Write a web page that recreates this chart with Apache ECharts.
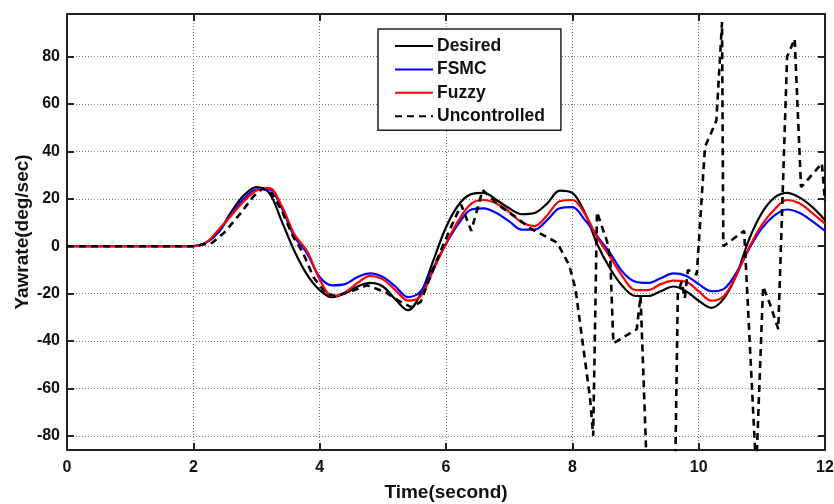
<!DOCTYPE html>
<html lang="en">
  <head>
    <meta charset="UTF-8" />
    <title>Yawrate comparison</title>
    <script src="https://cdn.jsdelivr.net/npm/echarts@6.0.0/dist/echarts.min.js"></script>
    <style>
      html, body { margin: 0; padding: 0; background: #fff; }
    </style>
  </head>
  <body>
    <div id="chart" style="width: 834px; height: 504px"></div>
    <script>
      // time grid shared by the three smooth curves
      const timeC = [0, 2, 2.2, 2.4, 2.6, 2.8, 3, 3.2, 3.4, 3.6, 3.8, 4, 4.2, 4.4, 4.6, 4.8, 5, 5.2, 5.4, 5.6, 5.8,
        6, 6.2, 6.4, 6.6, 6.8, 7, 7.2, 7.4, 7.6, 7.8, 8, 8.2, 8.4, 8.6, 8.8, 9, 9.2, 9.4, 9.6, 9.8,
        10, 10.2, 10.4, 10.6, 10.8, 11, 11.2, 11.4, 11.6, 11.8, 12];
      const desired = [0, 0, 1.5, 6, 14.5, 21.5, 25, 22.5, 10.5, -2, -12, -18.5, -21.5, -20, -17, -15.5, -17, -22.5, -27, -20, -6,
        8, 17.5, 22, 22.5, 19.5, 16, 13.5, 14, 18, 23.5, 22.5, 14, 0.5, -9.5, -17, -21, -21, -19, -17, -19,
        -23, -26, -22, -12, 3, 14, 20.5, 22.5, 20.5, 16.5, 11];
      const fsmc = [0, 0, 1.5, 6, 13.5, 20, 24, 24, 16, 4, -3, -13, -16.5, -16, -13, -11.5, -13, -17, -21.5, -19, -9,
        1, 9.5, 15.5, 16, 14, 10.5, 7, 7, 11, 16, 16.5, 11, 4, -3, -11, -15, -15.5, -13.5, -11.5, -12.5,
        -16, -19, -18, -11, -1, 7.5, 13, 15.5, 14, 10.5, 6.5];
      const fuzzy = [0, 0, 1.5, 7, 13, 19, 23.5, 24.5, 17, 5, -2, -14, -21, -19.5, -15.5, -12.5, -14, -18.5, -23, -21, -10,
        1, 11, 18, 19.5, 18, 14.5, 10, 8.5, 13, 19, 19.5, 13.5, 3.5, -4.6, -13, -18.5, -18.5, -16, -14.5, -15,
        -19, -23, -21, -12, -0.5, 9, 15.5, 19.5, 18, 14, 9.5];

      // uncontrolled response, irregular sampling
      const timeU = [0, 2, 2.3, 2.5, 2.75, 2.95, 3.1, 3.25, 3.4, 3.58, 3.74, 3.9, 4.1, 4.25, 4.5, 4.75, 5.05, 5.25, 5.45, 5.6,
        5.75, 5.9, 6.06, 6.24, 6.4, 6.58, 6.85, 7.12, 7.33, 7.6, 7.76, 7.85, 7.95, 8.05, 8.17, 8.28, 8.33, 8.39, 8.55, 8.6,
        8.65, 9.02, 9.08, 9.2, 9.62, 9.67, 9.73, 9.78, 9.83, 9.97, 10.1, 10.2, 10.28, 10.37, 10.39, 10.72, 10.91, 11.02,
        11.13, 11.26, 11.4, 11.52, 11.62, 11.66, 11.95, 12];
      const uncontrolled = [0, 0, 1.5, 6, 14, 21, 24.5, 22, 15, 4, -3, -13, -20, -21, -19, -16.5, -19.5, -23, -25.7, -23.5,
        -13, -3, 7, 17.5, 6.5, 23.7, 17, 12, 7.6, 3.8, 1.5, -3, -8, -18, -42, -64, -80, 14.4, 2, -5,
        -41, -35, -21, -110, -110, -20, -15, -22, -10, -12, 42, 48, 53, 94.6, 0, 6.5, -95, -17,
        -24.5, -35, 80, 87.5, 25, 26, 35, 19];

      const yTicks = [-80, -60, -40, -20, 0, 20, 40, 60, 80];

      const zip = (ts, vs) => ts.map((t, i) => [t, vs[i]]);

      const font = "'Liberation Sans', Arial, sans-serif";
      const chart = echarts.init(document.getElementById("chart"));

      const hidden = { show: false };
      const axisLineStyle = { color: "#222", width: 2 };
      const option = {
        animation: false,
        grid: { left: 67, right: 9, top: 14, bottom: 54, outerBoundsMode: "none", containLabel: false },
        textStyle: { fontFamily: font },
        legend: {
          orient: "vertical",
          left: 378,
          top: 29,
          padding: [8, 16, 5, 16],
          itemWidth: 38,
          itemHeight: 14,
          itemGap: 5.4,
          backgroundColor: "#fff",
          borderColor: "#222",
          borderWidth: 1.5,
          itemStyle: { color: "transparent", borderWidth: 0, opacity: 0 },
          textStyle: { fontFamily: font, fontWeight: "bold", fontSize: 17.5, color: "#111", padding: [0, 0, 0, -1] },
          data: ["Desired", "FSMC", "Fuzzy", "Uncontrolled"],
        },
        xAxis: [
          {
            type: "value",
            min: 0,
            max: 12,
            interval: 2,
            name: "Time(second)",
            nameLocation: "middle",
            nameGap: 33,
            nameTextStyle: { fontFamily: font, fontWeight: "bold", fontSize: 19, color: "#111" },
            axisLine: { onZero: false, lineStyle: axisLineStyle },
            axisTick: { inside: true, length: 7, lineStyle: axisLineStyle },
            axisLabel: { fontFamily: font, fontWeight: "bold", fontSize: 16, color: "#111", margin: 10 },
            splitLine: { show: true, lineStyle: { color: "#777", type: [1, 2], width: 1 } },
          },
          {
            type: "value",
            position: "top",
            min: 0,
            max: 12,
            interval: 2,
            axisLine: { onZero: false, lineStyle: axisLineStyle },
            axisTick: { inside: true, length: 7, lineStyle: axisLineStyle },
            axisLabel: hidden,
            splitLine: hidden,
          },
        ],
        yAxis: [
          {
            type: "value",
            min: -86,
            max: 98,
            name: "Yawrate(deg/sec)",
            nameLocation: "middle",
            nameGap: 35,
            nameMoveOverlap: false,
            nameTextStyle: { fontFamily: font, fontWeight: "bold", fontSize: 19, color: "#111" },
            axisLine: { show: true, onZero: false, lineStyle: axisLineStyle },
            axisTick: { show: true, inside: true, length: 7, customValues: yTicks, lineStyle: axisLineStyle },
            axisLabel: { customValues: yTicks, fontFamily: font, fontWeight: "bold", fontSize: 16, color: "#111", margin: 7 },
            splitLine: { show: true, lineStyle: { color: "#777", type: [1, 2], width: 1 } },
          },
          {
            type: "value",
            position: "right",
            min: -86,
            max: 98,
            axisLine: { show: true, onZero: false, lineStyle: axisLineStyle },
            axisTick: { show: true, inside: true, length: 7, customValues: yTicks, lineStyle: axisLineStyle },
            axisLabel: hidden,
            splitLine: hidden,
          },
        ],
        series: [
          {
            name: "Desired",
            type: "line",
            data: zip(timeC, desired),
            smooth: 0.35,
            symbol: "none",
            lineStyle: { color: "#000", width: 2.2 },
            itemStyle: { color: "#000" },
          },
          {
            name: "FSMC",
            type: "line",
            data: zip(timeC, fsmc),
            smooth: 0.35,
            symbol: "none",
            lineStyle: { color: "#0000ff", width: 2.2 },
            itemStyle: { color: "#0000ff" },
          },
          {
            name: "Fuzzy",
            type: "line",
            data: zip(timeC, fuzzy),
            smooth: 0.35,
            symbol: "none",
            lineStyle: { color: "#ff0000", width: 2.2 },
            itemStyle: { color: "#ff0000" },
          },
          {
            name: "Uncontrolled",
            type: "line",
            data: zip(timeU, uncontrolled),
            symbol: "none",
            lineStyle: { color: "#000", width: 2.6, type: [7, 5] },
            itemStyle: { color: "#000" },
          },
        ],
      };

      chart.setOption(option);
    </script>
  </body>
</html>
